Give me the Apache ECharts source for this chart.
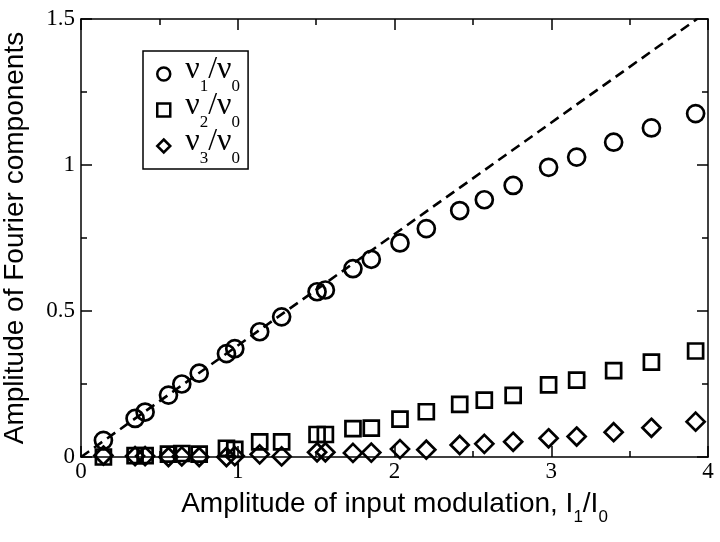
<!DOCTYPE html>
<html>
<head>
<meta charset="utf-8">
<script src="https://cdn.jsdelivr.net/npm/echarts@6/dist/echarts.min.js"></script>
<style>
  html, body { margin: 0; padding: 0; background: #fff; }
  #main { width: 720px; height: 542px; }
</style>
</head>
<body>
<div id="main"></div>
<script>
// input modulation amplitude I1/I0 (same for all three components)
var xVals = [0.143, 0.345, 0.409, 0.558, 0.643, 0.754, 0.928, 0.981, 1.14, 1.28, 1.506, 1.559,
    1.735, 1.852, 2.035, 2.203, 2.416, 2.573, 2.757, 2.983, 3.162, 3.398, 3.639, 3.921];
var nu1 = [0.057, 0.132, 0.154, 0.212, 0.25, 0.287, 0.354, 0.371, 0.429, 0.48, 0.566, 0.572,
    0.645, 0.677, 0.733, 0.782, 0.844, 0.881, 0.93, 0.992, 1.027, 1.078, 1.127, 1.176];
var nu2 = [0.0, 0.005, 0.005, 0.01, 0.012, 0.01, 0.03, 0.026, 0.052, 0.052, 0.077, 0.077,
    0.097, 0.099, 0.13, 0.155, 0.18, 0.195, 0.211, 0.247, 0.263, 0.296, 0.325, 0.363];
var nu3 = [0.005, 0.003, 0.003, 0.0, 0.002, 0.0, 0.0, 0.003, 0.009, 0.002, 0.016, 0.016,
    0.014, 0.015, 0.027, 0.025, 0.041, 0.045, 0.052, 0.064, 0.07, 0.085, 0.1, 0.121];
// dashed reference line
var lineX = [0, 3.93];
var lineY = [0, 1.5];
var xTicks = [0, 1, 2, 3, 4];
var yTicks = [0, 0.5, 1, 1.5];

function pairs(xs, ys) {
    var out = [];
    for (var i = 0; i < xs.length; i++) out.push([xs[i], ys[i]]);
    return out;
}

var myChart = echarts.init(document.getElementById('main'));

var serif = 'Liberation Serif';
var sans = 'Liberation Sans';
var black = '#000';

var legendNames = {
    'n1': '{g|}{v|ν}{s|1}{v|/ν}{s|0}',
    'n2': '{g|}{v|ν}{s|2}{v|/ν}{s|0}',
    'n3': '{g|}{v|ν}{s|3}{v|/ν}{s|0}'
};

function axisX(pos, showLabel) {
    return {
        type: 'value', position: pos, min: 0, max: 4, interval: 1,
        axisLine: { show: true, onZero: false, lineStyle: { color: black, width: 1.5 } },
        axisTick: { show: true, inside: true, length: 11, lineStyle: { color: black, width: 1.5 } },
        minorTick: { show: true, splitNumber: 2, length: 6, lineStyle: { color: black, width: 1.5 } },
        splitLine: { show: false },
        axisLabel: {
            show: showLabel, color: black, fontFamily: serif, fontSize: 23, margin: 3,
            formatter: function (v) { return xTicks.indexOf(v) >= 0 ? String(v) : ''; }
        }
    };
}
function axisY(pos, showLabel) {
    return {
        type: 'value', position: pos, min: 0, max: 1.5, interval: 0.5,
        axisLine: { show: true, onZero: false, lineStyle: { color: black, width: 1.5 } },
        axisTick: { show: true, inside: true, length: 11, lineStyle: { color: black, width: 1.5 } },
        minorTick: { show: true, splitNumber: 2, length: 6, lineStyle: { color: black, width: 1.5 } },
        splitLine: { show: false },
        axisLabel: {
            show: showLabel, color: black, fontFamily: serif, fontSize: 23, margin: 6,
            formatter: function (v) { return yTicks.indexOf(v) >= 0 ? String(v) : ''; }
        }
    };
}

var xBottom = axisX('bottom', true);
xBottom.name = '{t|Amplitude of input modulation, I}{s|1}{t|/I}{s|0}';
xBottom.nameLocation = 'middle';
xBottom.nameGap = 31;
xBottom.nameTextStyle = {
    rich: {
        t: { fontFamily: sans, fontSize: 28, color: black, lineHeight: 30, verticalAlign: 'bottom' },
        s: { fontFamily: sans, fontSize: 17, color: black, lineHeight: 30, verticalAlign: 'bottom', padding: [0, 0, -8, 0] }
    }
};
var yLeft = axisY('left', true);
yLeft.name = 'Amplitude of Fourier components';
yLeft.nameLocation = 'middle';
yLeft.nameGap = 52;
yLeft.nameTextStyle = { fontFamily: sans, fontSize: 28, color: black };

var symStyle = { color: 'rgba(0,0,0,0)', borderColor: black, borderWidth: 2.7, opacity: 1 };

var option = {
    animation: false,
    backgroundColor: '#fff',
    grid: { left: 81, right: 12, top: 19, bottom: 85, outerBoundsMode: 'none' },
    legend: {
        orient: 'vertical', left: 143, top: 51,
        padding: [3, 8, 2, 13],
        borderColor: black, borderWidth: 1.5,
        itemWidth: 13, itemHeight: 13, itemGap: -5,
        data: ['n1', 'n2', 'n3'],
        formatter: function (name) { return legendNames[name]; },
        itemStyle: { borderWidth: 2.5 },
        textStyle: {
            rich: {
                g: { width: 10 },
                v: { fontFamily: serif, fontSize: 32, color: black, lineHeight: 24, verticalAlign: 'bottom' },
                s: { fontFamily: serif, fontSize: 17, color: black, lineHeight: 24, verticalAlign: 'bottom', padding: [0, 0, -9, 0] }
            }
        }
    },
    xAxis: [xBottom, axisX('top', false)],
    yAxis: [yLeft, axisY('right', false)],
    series: [
        {
            name: 'fit', type: 'line', data: pairs(lineX, lineY), symbol: 'none',
            lineStyle: { color: black, width: 2.6, type: [10, 6] }, z: 1
        },
        {
            name: 'n1', type: 'scatter', data: pairs(xVals, nu1), symbol: 'circle', symbolSize: 17,
            itemStyle: symStyle, z: 3
        },
        {
            name: 'n2', type: 'scatter', data: pairs(xVals, nu2), symbol: 'rect', symbolSize: 15,
            itemStyle: symStyle, z: 3
        },
        {
            name: 'n3', type: 'scatter', data: pairs(xVals, nu3), symbol: 'diamond', symbolSize: 18,
            itemStyle: symStyle, z: 3
        }
    ]
};

myChart.setOption(option);
</script>
</body>
</html>
